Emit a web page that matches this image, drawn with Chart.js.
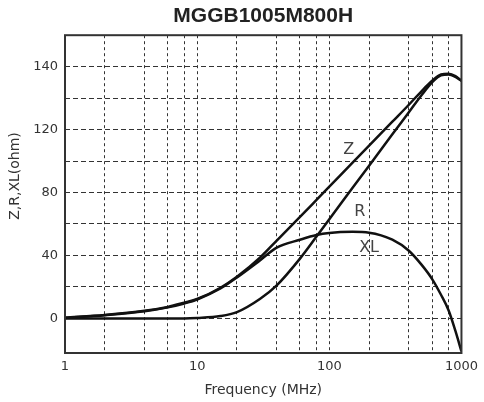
<!DOCTYPE html>
<html lang="en">
<head>
<meta charset="UTF-8" />
<title>MGGB1005M800H</title>
<script src="https://cdn.jsdelivr.net/npm/chart.js"></script>
<style>
  html, body { margin: 0; padding: 0; background: #fff; }
  #wrap { width: 484px; height: 402px; }
</style>
</head>
<body>
<div id="wrap"><canvas id="chart"></canvas></div>
<script>
  // frequency points (MHz) and the three curves
  const freq = [1, 2, 4, 6, 8, 10, 15, 20, 30, 40, 60, 80, 100, 150, 200, 300, 400, 500, 600, 700, 800, 900, 1000];
  const zValues = [0.5, 2.2, 4.8, 7.3, 10, 12.3, 19.5, 26.5, 38.8, 49.5, 64.5, 75.3, 83.7, 99, 109.8, 125, 135.8, 144.5, 151, 155, 155.5, 154, 151];
  const rValues = [0, 0, 0, 0, 0, 0.3, 1.5, 4, 12.5, 21, 38, 52, 63, 83, 97, 117, 131, 142, 150, 154.5, 155, 153.5, 151];
  const xlValues = [0.3, 2, 4.5, 7, 9.5, 12, 19, 26, 37, 45, 50, 53, 54.3, 55, 54.5, 50, 43, 34, 25, 15, 5, -8, -21];

  // axis ticks
  const xGridValues = [1, 2, 4, 6, 8, 10, 20, 40, 60, 80, 100, 200, 400, 600, 800, 1000];
  const xTickValues = [1, 10, 100, 1000];
  const xTickLabels = ['1', '10', '100', '1000'];
  const yGridValues = [0, 20, 40, 60, 80, 100, 120, 140, 160];
  const yTickValues = [0, 40, 80, 120, 160];
  const yTickLabels = ['0', '40', '80', '120', '140'];

  // curve names written on the plot
  const curveNames = ['Z', 'R', 'XL'];
  const curveNameFreqs = [140, 170, 200];
  const curveNameValues = [107, 67.5, 45];

  const toPoints = vals => freq.map((f, i) => ({ x: f, y: vals[i] }));

  const frameAndNames = {
    id: 'frameAndNames',
    afterDatasetsDraw(chart) {
      const { ctx, chartArea: a, scales } = chart;
      ctx.save();
      ctx.strokeStyle = '#333';
      ctx.lineWidth = 2;
      ctx.setLineDash([]);
      ctx.strokeRect(a.left, a.top, a.right - a.left, a.bottom - a.top);

      ctx.fillStyle = '#444';
      ctx.font = '16px "DejaVu Sans"';
      ctx.textAlign = 'center';
      ctx.textBaseline = 'middle';
      curveNames.forEach((name, i) => {
        ctx.fillText(name, scales.x.getPixelForValue(curveNameFreqs[i]), scales.y.getPixelForValue(curveNameValues[i]));
      });

      // y axis title
      ctx.fillStyle = '#333';
      ctx.font = '14px "DejaVu Sans"';
      ctx.translate(15, 176);
      ctx.rotate(-Math.PI / 2);
      ctx.fillText('Z,R,XL(ohm)', 0, 0);
      ctx.restore();
    }
  };

  const line = (label, vals) => ({
    label,
    data: toPoints(vals),
    borderColor: '#111',
    borderWidth: 2.5,
    pointRadius: 0,
    fill: false,
    cubicInterpolationMode: 'monotone'
  });

  new Chart(document.getElementById('chart'), {
    type: 'line',
    data: {
      datasets: [line('Z', zValues), line('R', rValues), line('XL', xlValues)]
    },
    options: {
      responsive: true,
      maintainAspectRatio: false,
      animation: false,
      layout: { padding: { left: 0, right: 18, top: 0, bottom: 0 } },
      plugins: {
        legend: { display: false },
        tooltip: { enabled: false },
        title: {
          display: true,
          fullSize: false,
          text: 'MGGB1005M800H',
          color: '#222',
          font: { family: 'Liberation Sans', size: 21, weight: 'bold', lineHeight: 1.2 },
          padding: { top: 4, bottom: 6 }
        }
      },
      scales: {
        x: {
          type: 'logarithmic',
          min: 1,
          max: 1000,
          afterBuildTicks: s => { s.ticks = xGridValues.map(v => ({ value: v })); },
          afterFit: s => { s.height = 49; },
          grid: { color: '#333', lineWidth: 1, drawTicks: false },
          border: { display: false, dash: [3, 3] },
          ticks: {
            autoSkip: false,
            maxRotation: 0,
            padding: 6,
            color: '#333',
            font: { family: 'DejaVu Sans', size: 13 },
            callback: v => {
              const i = xTickValues.indexOf(v);
              return i >= 0 ? xTickLabels[i] : '';
            }
          },
          title: {
            display: true,
            text: 'Frequency (MHz)',
            color: '#333',
            font: { family: 'DejaVu Sans', size: 14 },
            padding: { top: 0, bottom: 3 }
          }
        },
        y: {
          min: -22,
          max: 180,
          afterBuildTicks: s => { s.ticks = yGridValues.map(v => ({ value: v })); },
          afterFit: s => { s.width = 65; },
          grid: { color: '#333', lineWidth: 1, drawTicks: false },
          border: { display: false, dash: [5, 3] },
          ticks: {
            autoSkip: false,
            padding: 7,
            color: '#333',
            font: { family: 'DejaVu Sans', size: 13 },
            callback: v => {
              const i = yTickValues.indexOf(v);
              return i >= 0 ? yTickLabels[i] : '';
            }
          }
        }
      }
    },
    plugins: [frameAndNames]
  });
</script>
</body>
</html>
